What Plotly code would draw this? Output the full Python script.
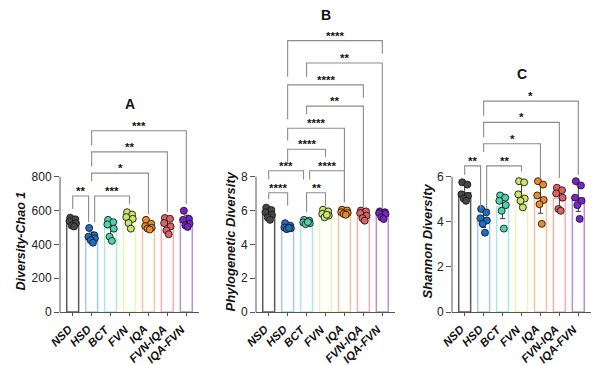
import plotly.graph_objects as go

# ---------------- data ----------------
groups = ["NSD", "HSD", "BCT", "FVN", "IQA", "FVN-IQA", "IQA-FVN"]

chao_points = [
    [558, 548, 537, 525, 512, 506],
    [497, 454, 445, 435, 425, 410],
    [545, 531, 518, 493, 445, 421],
    [590, 576, 561, 551, 526, 493],
    [545, 522, 508, 498, 494, 488],
    [556, 551, 526, 506, 483, 460],
    [599, 551, 545, 522, 512, 503],
]
chao_mean = [531, 444, 492, 550, 509, 514, 539]
chao_sd = [20, 29, 49, 34, 21, 37, 34]
chao_ticks = [0, 200, 400, 600, 800]

pd_points = [
    [6.17, 6.03, 5.90, 5.74, 5.59, 5.45],
    [5.25, 5.10, 5.00, 4.95, 4.90, 4.97],
    [5.45, 5.40, 5.30, 5.25, 5.20, 5.32],
    [6.05, 5.95, 5.80, 5.70, 5.60, 5.75],
    [6.05, 6.00, 5.90, 5.85, 5.80, 5.75],
    [6.00, 5.95, 5.85, 5.70, 5.55, 5.40],
    [5.95, 5.90, 5.85, 5.80, 5.60, 5.50],
]
pd_mean = [5.81, 5.03, 5.32, 5.81, 5.89, 5.74, 5.77]
pd_sd = [0.27, 0.12, 0.09, 0.16, 0.11, 0.23, 0.18]
pd_ticks = [0, 2, 4, 6, 8]

sh_points = [
    [5.75, 5.65, 5.22, 5.14, 5.03, 4.93],
    [4.57, 4.42, 4.16, 4.06, 3.91, 3.52],
    [5.17, 5.07, 4.93, 4.74, 4.49, 3.70],
    [5.80, 5.75, 5.22, 5.03, 4.93, 4.64],
    [5.80, 5.65, 5.17, 4.97, 4.78, 3.91],
    [5.51, 5.40, 5.26, 5.07, 4.57, 4.49],
    [5.80, 5.61, 5.07, 4.93, 4.74, 4.13],
]
sh_mean = [5.29, 4.11, 4.68, 5.23, 5.05, 5.05, 5.05]
sh_sd = [0.32, 0.36, 0.54, 0.46, 0.67, 0.43, 0.59]
sh_ticks = [0, 2, 4, 6]

# significance brackets: (group a, group b, bracket level, leg end a, leg end b, label)
chao_brackets = [
    (1, 6, 1072, 985, 638, "***"),
    (1, 5, 947, 860, 590, "**"),
    (1, 4, 821, 773, 580, "*"),
    (0, 0.84, 686, 609, 532, "**"),
    (1.16, 3, 686, 532, 638, "***"),
]
pd_brackets = [
    (1, 6, 16.04, 13.91, 15.26, "****"),
    (2, 6, 14.72, 13.91, 6.09, "**"),
    (1, 5, 13.43, 11.40, 12.66, "****"),
    (2, 5, 12.17, 11.69, 6.20, "**"),
    (1, 4, 10.86, 10.14, 6.49, "****"),
    (1, 3, 9.62, 8.81, 9.18, "****"),
    (0, 1.84, 8.35, 7.83, 7.83, "***"),
    (2.16, 4, 8.35, 7.83, 6.49, "****"),
    (0, 1, 7.05, 6.67, 6.28, "****"),
    (2, 3, 7.05, 5.91, 6.28, "**"),
]
sh_brackets = [
    (1, 6, 9.35, 8.70, 6.09, "*"),
    (1, 5, 8.41, 7.75, 5.94, "*"),
    (1, 4, 7.46, 7.10, 5.90, "*"),
    (0, 0.84, 6.48, 6.09, 4.60, "**"),
    (1.16, 3, 6.48, 4.60, 6.23, "**"),
]

panels = [
    dict(points=chao_points, mean=chao_mean, sd=chao_sd, brackets=chao_brackets,
         ytitle="Diversity-Chao 1", letter="A", ticks=chao_ticks),
    dict(points=pd_points, mean=pd_mean, sd=pd_sd, brackets=pd_brackets,
         ytitle="Phylogenetic Diversity", letter="B", ticks=pd_ticks),
    dict(points=sh_points, mean=sh_mean, sd=sh_sd, brackets=sh_brackets,
         ytitle="Shannon Diversity", letter="C", ticks=sh_ticks),
]

# ---------------- style ----------------
FONT = "Liberation Sans, Arial, sans-serif"
point_colors = ["#474747", "#1f6dc6", "#4fd3ac", "#c8e66c", "#ee8a24", "#e06063", "#7a22cc"]
bar_colors = ["#5a5a5a", "#a6c8ea", "#ace8dc", "#eef4b4", "#f5c497", "#eeb0b0", "#b48fe0"]
jitter = [-0.13, 0.14, -0.17, 0.17, -0.05, 0.07]
x_domains = [[52 / 600, 191 / 600], [248 / 600, 387 / 600], [444 / 600, 583 / 600]]
y_bottom = 55 / 365
axis_px = 138.0   # pixel height of the drawn axis
plot_px = 310.0   # pixel height of the subplot area
ytitle_x = [13 / 600, 222 / 600, 419 / 600]
ytitle_size = [12.5, 13, 13]
letter_y = [(365 - 98) / 365, (365 - 7) / 365, (365 - 67) / 365]
axis_col = "#555555"
bracket_col = "#8c8c8c"

fig = go.Figure()
shapes = []
annotations = []

for i, p in enumerate(panels):
    n = i + 1
    xa = "x" if n == 1 else f"x{n}"
    ya = "y" if n == 1 else f"y{n}"
    top = max(p["ticks"])
    ymax = top * plot_px / axis_px

    fig.add_trace(go.Bar(
        x=list(range(len(groups))), y=p["mean"], width=0.63,
        marker=dict(color="white", line=dict(color=bar_colors, width=1.5)),
        error_y=dict(type="data", array=p["sd"], color="#3c3c3c", thickness=1, width=2.5),
        xaxis=xa, yaxis=ya, showlegend=False, hoverinfo="skip",
    ))
    xs, ys, cs = [], [], []
    for g, pts in enumerate(p["points"]):
        for k, v in enumerate(pts):
            xs.append(g + jitter[k % len(jitter)])
            ys.append(v)
            cs.append(point_colors[g])
    fig.add_trace(go.Scatter(
        x=xs, y=ys, mode="markers",
        marker=dict(size=7, color=cs, line=dict(color="#1a1a1a", width=0.9)),
        xaxis=xa, yaxis=ya, showlegend=False, hoverinfo="skip", cliponaxis=False,
    ))

    fig.update_layout(**{
        ("xaxis" if n == 1 else f"xaxis{n}"): dict(
            domain=x_domains[i], range=[-0.67, 6.67], anchor=ya,
            tickvals=list(range(len(groups))), showticklabels=False,
            showline=True, linecolor=axis_col, linewidth=1, ticks="outside", ticklen=3,
            tickcolor=axis_col, showgrid=False, zeroline=False, fixedrange=True,
        ),
        ("yaxis" if n == 1 else f"yaxis{n}"): dict(
            domain=[y_bottom, 1], range=[0, ymax], anchor=xa,
            tickvals=p["ticks"], ticks="outside", ticklen=5, tickcolor=axis_col,
            tickfont=dict(family=FONT, size=12, color="#222"),
            showline=False, showgrid=False, zeroline=False, fixedrange=True,
        ),
    })
    # rotated category labels, top-right corner at each tick
    for g, name in enumerate(groups):
        annotations.append(dict(x=g, y=y_bottom, xref=xa, yref="paper", text=name,
                                textangle=-45, showarrow=False, xanchor="right", yanchor="top",
                                xshift=4, yshift=-8,
                                font=dict(family=FONT, size=11.5, color="#111",
                                          weight="bold", style="italic")))
    # y axis line only up to top tick
    shapes.append(dict(type="line", xref=f"{xa} domain", yref=ya, x0=0, x1=0, y0=0, y1=top,
                       line=dict(color=axis_col, width=1)))
    for (a, b, h, la, lb, lab) in p["brackets"]:
        shapes.append(dict(type="path", xref=xa, yref=ya,
                           path=f"M {a},{la} L {a},{h} L {b},{h} L {b},{lb}",
                           line=dict(color=bracket_col, width=1.1)))
        annotations.append(dict(x=(a + b) / 2, y=h, xref=xa, yref=ya, text=lab, showarrow=False,
                                yanchor="bottom", yshift=-3,
                                font=dict(family=FONT, size=11.5, color="#111", weight="bold")))
    annotations.append(dict(x=ytitle_x[i], y=(365 - 238) / 365, xref="paper", yref="paper",
                            text=p["ytitle"], textangle=-90, showarrow=False,
                            xanchor="center", yanchor="middle",
                            font=dict(family=FONT, size=ytitle_size[i], color="#111",
                                      weight="bold", style="italic")))
    annotations.append(dict(x=sum(x_domains[i]) / 2, y=letter_y[i], xref="paper", yref="paper",
                            text=p["letter"], showarrow=False, xanchor="center", yanchor="middle",
                            font=dict(family=FONT, size=14, color="#111", weight="bold")))

fig.update_layout(
    width=600, height=365, margin=dict(l=0, r=0, t=0, b=0),
    paper_bgcolor="white", plot_bgcolor="white",
    shapes=shapes, annotations=annotations, bargap=0.3,
)
fig.write_html("out.html")
